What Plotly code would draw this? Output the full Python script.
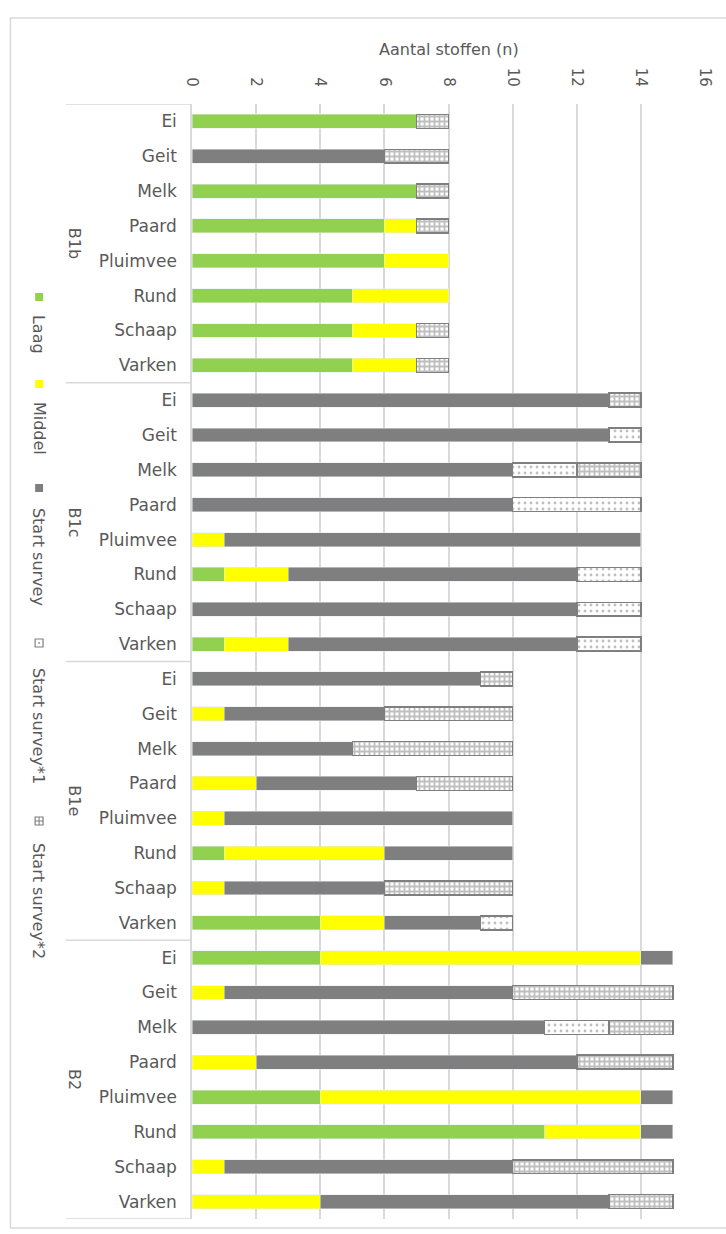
import plotly.graph_objects as go

# ---------------- data ----------------
groups = ["B1b", "B1c", "B1e", "B2"]
animals = ["Ei", "Geit", "Melk", "Paard", "Pluimvee", "Rund", "Schaap", "Varken"]
series_names = ["Laag", "Middel", "Start survey", "Start survey*1", "Start survey*2"]

laag = [7, 0, 7, 6, 6, 5, 5, 5,
        0, 0, 0, 0, 0, 1, 0, 1,
        0, 0, 0, 0, 0, 1, 0, 4,
        4, 0, 0, 0, 4, 11, 0, 0]
middel = [0, 0, 0, 1, 2, 3, 2, 2,
          0, 0, 0, 0, 1, 2, 0, 2,
          0, 1, 0, 2, 1, 5, 1, 2,
          10, 1, 0, 2, 10, 3, 1, 4]
start_survey = [0, 6, 0, 0, 0, 0, 0, 0,
                13, 13, 10, 10, 13, 9, 12, 9,
                9, 5, 5, 5, 9, 4, 5, 3,
                1, 9, 11, 10, 1, 1, 9, 9]
start_survey_1 = [0, 0, 0, 0, 0, 0, 0, 0,
                  0, 1, 2, 4, 0, 2, 2, 2,
                  0, 0, 0, 0, 0, 0, 0, 1,
                  0, 0, 2, 0, 0, 0, 0, 0]
start_survey_2 = [1, 2, 1, 1, 0, 0, 1, 1,
                  1, 0, 2, 0, 0, 0, 0, 0,
                  1, 4, 5, 3, 0, 0, 4, 0,
                  0, 5, 2, 3, 0, 0, 5, 2]

x_ticks = [0, 2, 4, 6, 8, 10, 12, 14, 16]
x_title = "Aantal stoffen (n)"

# ---------------- layout constants ----------------
W, H = 726, 1234
L, R, T, B = 192, 14, 104, 15
PW, PH = W - L - R, H - T - B
TXT = "#595959"
GRID = "#D9D9D9"
GRAY = "#7F7F7F"
FONT = "DejaVu Sans"


def px_x(px):
    return (px - L) / PW


def px_y(py):
    return 1 - (py - T) / PH


n_rows = len(groups) * len(animals)
ypos = list(range(n_rows))
ticktext = animals * len(groups)

styles = [
    dict(color="#92D050"),
    dict(color="#FFFF00"),
    dict(color=GRAY),
    dict(color="white", line=dict(color=GRAY, width=1.5),
         pattern=dict(shape=".", fgcolor=GRAY, bgcolor="white", size=6,
                      solidity=0.18, fillmode="overlay")),
    dict(color="white", line=dict(color=GRAY, width=1.5),
         pattern=dict(shape="+", fgcolor=GRAY, bgcolor="white", size=5,
                      solidity=0.6, fillmode="overlay")),
]
values = [laag, middel, start_survey, start_survey_1, start_survey_2]

fig = go.Figure()
for name, vals, st in zip(series_names, values, styles):
    fig.add_trace(go.Bar(
        name=name, orientation="h", y=ypos,
        x=[v if v else None for v in vals],
        marker=st, showlegend=False,
    ))

shapes = []
annotations = []

# group separators on the category axis
for k in range(len(groups) + 1):
    yv = k * len(animals) - 0.5
    shapes.append(dict(type="line", xref="paper", yref="y",
                       x0=px_x(64), x1=0, y0=yv, y1=yv,
                       line=dict(color=GRID, width=1.5)))
# group labels
for k, g in enumerate(groups):
    annotations.append(dict(
        text=g, xref="paper", yref="y", x=px_x(73),
        y=k * len(animals) + (len(animals) - 1) / 2,
        xanchor="center", yanchor="middle",
        showarrow=False, textangle=90,
        font=dict(family=FONT, size=16, color=TXT)))

# outer border
shapes.append(dict(type="rect", xref="paper", yref="paper",
                   x0=px_x(8), x1=px_x(740), y0=px_y(1228), y1=px_y(18),
                   line=dict(color=GRID, width=1.5), fillcolor="rgba(0,0,0,0)",
                   layer="below"))

# axis title
annotations.append(dict(text=x_title, xref="paper", yref="paper",
                        x=0.5, y=px_y(49), xanchor="center", yanchor="middle",
                        showarrow=False,
                        font=dict(family=FONT, size=16, color=TXT)))

# vertical (rotated) legend
legend_marker_y = [297, 384, 488, 643, 821]
legend_text_y = [334, 428, 557, 726, 901]
mx = 37
ms = 4
for i, name in enumerate(series_names):
    cy = legend_marker_y[i]
    x0, x1 = px_x(mx - ms), px_x(mx + ms)
    y0, y1 = px_y(cy + ms), px_y(cy - ms)
    if i < 3:
        shapes.append(dict(type="rect", xref="paper", yref="paper",
                           x0=x0, x1=x1, y0=y0, y1=y1,
                           fillcolor=styles[i]["color"], line=dict(width=0)))
    else:
        shapes.append(dict(type="rect", xref="paper", yref="paper",
                           x0=x0, x1=x1, y0=y0, y1=y1,
                           fillcolor="white", line=dict(color=GRAY, width=1.2)))
        if i == 3:
            shapes.append(dict(type="rect", xref="paper", yref="paper",
                               x0=px_x(mx - 0.8), x1=px_x(mx + 0.8),
                               y0=px_y(cy + 0.8), y1=px_y(cy - 0.8),
                               fillcolor=GRAY, line=dict(width=0)))
        else:
            shapes.append(dict(type="line", xref="paper", yref="paper",
                               x0=px_x(mx), x1=px_x(mx), y0=y0, y1=y1,
                               line=dict(color=GRAY, width=1)))
            shapes.append(dict(type="line", xref="paper", yref="paper",
                               x0=x0, x1=x1, y0=px_y(cy), y1=px_y(cy),
                               line=dict(color=GRAY, width=1)))
    annotations.append(dict(text=name, xref="paper", yref="paper",
                            x=px_x(37), y=px_y(legend_text_y[i]),
                            xanchor="center", yanchor="middle",
                            showarrow=False, textangle=90,
                            font=dict(family=FONT, size=16, color=TXT)))

fig.update_layout(
    width=W, height=H,
    margin=dict(l=L, r=R, t=T, b=B, pad=0),
    paper_bgcolor="white", plot_bgcolor="white",
    barmode="stack", bargap=0.6,
    font=dict(family=FONT, size=16, color=TXT),
    shapes=shapes, annotations=annotations,
    xaxis=dict(side="top", range=[0, 16], tickvals=x_ticks,
               ticktext=[str(t) for t in x_ticks], tickangle=90,
               showgrid=True, gridcolor=GRID, gridwidth=1.5,
               zeroline=False, showline=False, ticks="",
               ticklabelstandoff=14,
               tickfont=dict(family=FONT, size=15, color=TXT)),
    yaxis=dict(range=[n_rows - 0.5, -0.5], tickvals=ypos, ticktext=ticktext,
               showgrid=False, zeroline=False, showline=True,
               linecolor=GRID, linewidth=1.5, ticks="",
               ticklabelstandoff=10,
               tickfont=dict(family=FONT, size=17, color=TXT)),
)

fig.write_html("out.html")
